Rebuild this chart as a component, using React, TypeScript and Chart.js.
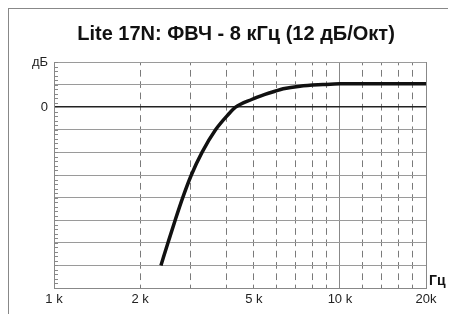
import React, { useEffect, useRef } from "react";
import { Chart, registerables } from "chart.js";

Chart.register(...registerables);

// ---- data ----
const TITLE = "Lite 17N: ФВЧ - 8 кГц (12 дБ/Окт)";
const FREQ_HZ = [2366, 2504, 2653, 2820, 3022, 3293, 3673, 4069, 4315, 4912, 5467, 5927, 6335, 7247, 8719, 10000, 12000, 15000, 20000];
const LEVEL_DB = [-21, -18, -15, -12, -9, -6, -3, -0.97, 0, 1.02, 1.69, 2.12, 2.44, 2.79, 3.0, 3.1, 3.1, 3.1, 3.1];
const X_GRID = [1000, 2000, 3000, 4000, 5000, 6000, 7000, 8000, 9000, 10000, 12000, 14000, 16000, 18000, 20000];
const X_SOLID = [1000, 10000, 20000];
const X_LABELS: Record<number, string> = { 1000: "1 k", 2000: "2 k", 5000: "5 k", 10000: "10 k", 20000: "20k" };
const Y_MIN = -24;
const Y_MAX = 6;
const Y_STEP = 3;
const Y_MINOR_PER_STEP = 5;
const Y_LABELS: Record<number, string> = { 0: "0", 6: "дБ" };
const X_UNIT = "Гц";

const FONT = "'Liberation Sans', Arial, sans-serif";

const extrasPlugin = {
  id: "extras",
  beforeDatasetsDraw(chart: any) {
    const { ctx, chartArea } = chart;
    const y = chart.scales.y;
    ctx.save();
    ctx.strokeStyle = "#888";
    ctx.lineWidth = 1;
    const minor = Y_STEP / Y_MINOR_PER_STEP;
    const n = Math.round((Y_MAX - Y_MIN) / minor);
    for (let i = 0; i <= n; i++) {
      const py = Math.round(y.getPixelForValue(Y_MIN + i * minor)) + 0.5;
      ctx.beginPath();
      ctx.moveTo(chartArea.left, py);
      ctx.lineTo(chartArea.left + 4, py);
      ctx.stroke();
    }
    ctx.restore();
  },
  afterDraw(chart: any) {
    const { ctx, chartArea } = chart;
    ctx.save();
    ctx.font = `bold 14px ${FONT}`;
    ctx.fillStyle = "#111";
    ctx.textAlign = "left";
    ctx.textBaseline = "alphabetic";
    ctx.fillText(X_UNIT, chartArea.right + 3, chartArea.bottom - 3);
    ctx.restore();
  },
};

export default function App() {
  const ref = useRef<HTMLCanvasElement | null>(null);
  useEffect(() => {
    if (!ref.current) return;
    const chart = new Chart(ref.current, {
      type: "line",
      data: {
        datasets: [
          {
            data: FREQ_HZ.map((f, i) => ({ x: f, y: LEVEL_DB[i] })),
            borderColor: "#111",
            borderWidth: 3.5,
            pointRadius: 0,
            cubicInterpolationMode: "monotone",
            fill: false,
            yAxisID: "y",
          },
        ],
      },
      options: {
        responsive: false,
        animation: false,
        layout: { padding: { left: 7, right: 0, top: 0, bottom: 0 } },
        plugins: {
          legend: { display: false },
          tooltip: { enabled: false },
          title: {
            display: true,
            text: TITLE,
            color: "#111",
            font: { family: FONT, size: 20, weight: "bold" },
            padding: { top: 13.5, bottom: 15.5 },
          },
        },
        scales: {
          x: {
            type: "logarithmic",
            min: 1000,
            max: 20000,
            afterBuildTicks: (scale: any) => {
              scale.ticks = X_GRID.map((v) => ({ value: v }));
            },
            afterFit: (scale: any) => {
              scale.height = 26;
            },
            ticks: {
              autoSkip: false,
              maxRotation: 0,
              padding: 4,
              color: "#222",
              font: { family: FONT, size: 13 },
              callback: (v: any) => X_LABELS[Number(v)] ?? "",
            },
            grid: {
              drawTicks: false,
              color: (c: any) => (c.tick && X_SOLID.includes(c.tick.value) ? "#888" : "#7a7a7a"),
              lineWidth: 1,
            },
            border: {
              display: true,
              color: "#888",
              dash: (c: any) => (c.tick && !X_SOLID.includes(c.tick.value) ? [6.7, 4.6] : []),
              dashOffset: 3.35,
            },
          },
          y: {
            type: "linear",
            position: "left",
            min: Y_MIN,
            max: Y_MAX,
            afterFit: (scale: any) => {
              scale.width = 38;
            },
            ticks: {
              stepSize: Y_STEP,
              padding: 6,
              color: "#222",
              font: { family: FONT, size: 13 },
              callback: (v: any) => Y_LABELS[Number(v)] ?? "",
            },
            grid: {
              drawTicks: false,
              color: (c: any) => (c.tick && c.tick.value === 0 ? "#222" : "#9a9a9a"),
              lineWidth: (c: any) => (c.tick && c.tick.value === 0 ? 1.5 : 1),
            },
            border: { display: true, color: "#888" },
          },
          yRight: {
            type: "linear",
            position: "right",
            min: Y_MIN,
            max: Y_MAX,
            afterFit: (scale: any) => {
              scale.width = 30;
            },
            ticks: { display: false },
            grid: { display: false, drawTicks: false },
            border: { display: false },
          },
        },
      },
      plugins: [extrasPlugin],
    } as any);
    return () => chart.destroy();
  }, []);

  return (
    <div
      style={{
        width: 448,
        height: 306,
        borderLeft: "1px solid #888",
        borderTop: "1px solid #888",
        boxSizing: "border-box",
      }}
    >
      <canvas ref={ref} width={447} height={305} style={{ display: "block" }} />
    </div>
  );
}
